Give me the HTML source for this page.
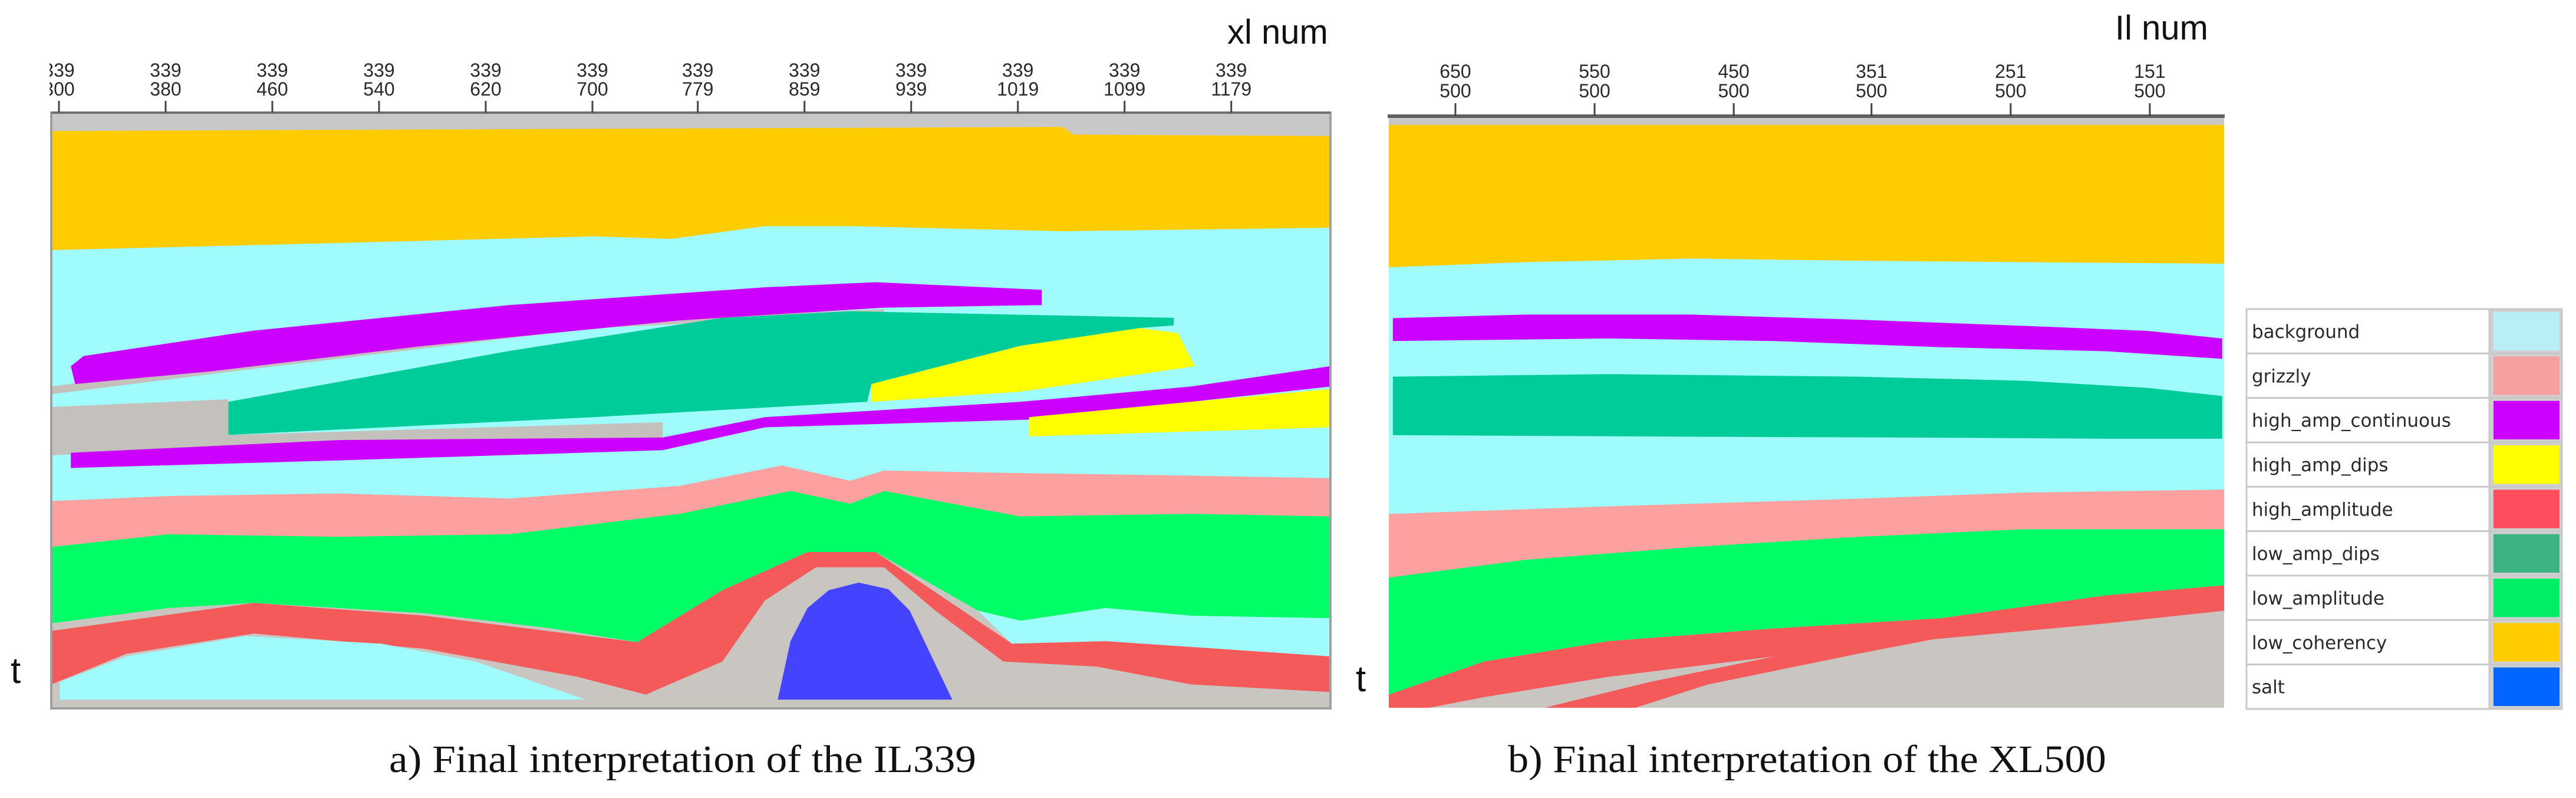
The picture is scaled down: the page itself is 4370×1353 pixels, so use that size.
<!DOCTYPE html>
<html><head><meta charset="utf-8"><style>
html,body{margin:0;padding:0;background:#fff;}
svg{display:block;}
</style></head><body>
<svg id="fig" width="4370" height="1353" viewBox="0 0 4370 1353" xmlns="http://www.w3.org/2000/svg">
<defs>
<clipPath id="clipA"><rect x="88" y="192" width="2168" height="1008"/></clipPath>
<clipPath id="clipB"><rect x="2356" y="198" width="1417" height="1002"/></clipPath>
<clipPath id="clipTickA"><rect x="84" y="90" width="2200" height="110"/></clipPath>
</defs>
<g id="panelA"></g>
<g id="panelB"></g>
<g id="axes"></g>
<g id="legend"></g>
<text x="2082" y="74" font-family="Liberation Sans, sans-serif" font-size="58" fill="#111">xl num</text>
<text x="3588" y="67" font-family="Liberation Sans, sans-serif" font-size="58" fill="#111">Il num</text>
<text x="18" y="1158" font-family="Liberation Sans, sans-serif" font-size="62" fill="#111">t</text>
<text x="2300" y="1172" font-family="Liberation Sans, sans-serif" font-size="62" fill="#111">t</text>
<text x="660" y="1309" font-family="Liberation Serif, serif" font-size="66" fill="#111" textLength="996" lengthAdjust="spacingAndGlyphs">a)  Final interpretation of the IL339</text>
<text x="2558" y="1309" font-family="Liberation Serif, serif" font-size="66" fill="#111" textLength="1015" lengthAdjust="spacingAndGlyphs">b)  Final interpretation of the XL500</text>
</svg>
<script>
// ---- data: tick labels ----
const xlTicks = [300,380,460,540,620,700,779,859,939,1019,1099,1179];
const ilTicks = [650,550,450,351,251,151];
// ---- legend ----
const legendNames = ["background","grizzly","high_amp_continuous","high_amp_dips","high_amplitude","low_amp_dips","low_amplitude","low_coherency","salt"];
const legendColors = ["#b9eef7","#f7a0a0","#cc00ff","#ffff00","#ff4d5e","#3cb383","#00ee66","#ffcc00","#0066ff"];
// ---- section A (trace index, sample index) polygons ----
const aGrayTop = [[62,222],[1564,222],[1564,268],[62,268]];
const aYellow = [[62,258],[1250,250],[1262,265],[1564,268],[1564,448],[1250,455],[1000,445],[900,445],[790,470],[700,465],[400,478],[62,492]];
const aCyan = [[62,492],[400,478],[700,465],[790,470],[900,445],[1000,445],[1250,455],[1564,448],[1564,940],[1400,935],[1200,930],[1040,925],[1000,945],[920,915],[800,955],[600,980],[400,970],[200,975],[62,985]];
const aGrayBand = [[62,760],[300,705],[700,632],[1040,608],[1040,618],[700,645],[300,725],[62,775]];
const aGrayWedge = [[62,800],[270,785],[270,855],[780,830],[780,860],[400,868],[62,895]];
const aMag1 = [[85,720],[100,700],[300,650],[600,600],[900,565],[1030,555],[1225,570],[1225,600],[1040,605],[800,630],[500,680],[250,730],[90,755]];
const aTeal = [[270,790],[600,690],[850,625],[1000,612],[1380,625],[1380,640],[1340,645],[1200,680],[1025,755],[1020,790],[700,820],[270,855]];
const aYel1 = [[1025,755],[1200,680],[1340,645],[1385,655],[1405,720],[1200,770],[1025,790]];
const aMag2 = [[85,890],[400,865],[780,860],[900,820],[1200,790],[1400,760],[1564,720],[1564,760],[1400,790],[1210,825],[900,840],[780,885],[400,905],[85,920]];
const aYel2 = [[1210,820],[1400,790],[1564,765],[1564,840],[1210,858]];
const aPink = [[62,985],[200,975],[400,970],[600,980],[800,955],[920,915],[1000,945],[1040,925],[1200,930],[1400,935],[1564,940],[1564,1015],[1400,1010],[1200,1015],[1040,965],[1000,990],[930,965],[800,1010],[600,1050],[400,1055],[200,1050],[62,1075]];
const aGreen = [[62,1075],[200,1050],[400,1055],[600,1050],[800,1010],[930,965],[1000,990],[1040,965],[1200,1015],[1400,1010],[1564,1015],[1564,1215],[1400,1210],[1300,1195],[1200,1220],[1150,1200],[1030,1085],[950,1085],[850,1160],[750,1262],[650,1235],[500,1205],[300,1185],[200,1195],[62,1225]];
const aCyanLow = [[1150,1200],[1200,1220],[1300,1195],[1400,1210],[1564,1215],[1564,1290],[1300,1260],[1190,1265]];
const aRed = [[62,1240],[300,1185],[500,1210],[750,1262],[850,1160],[950,1085],[1030,1085],[1190,1265],[1300,1260],[1564,1290],[1564,1360],[1400,1345],[1290,1310],[1180,1300],[1100,1200],[1040,1115],[960,1115],[900,1180],[850,1300],[760,1365],[680,1330],[500,1275],[300,1245],[150,1285],[62,1345]];
const aCyanBL = [[72,1340],[150,1290],[290,1250],[450,1265],[560,1300],[690,1375],[72,1375]];
const aSalt = [[915,1375],[930,1260],[950,1195],[975,1160],[1010,1145],[1045,1158],[1070,1200],[1090,1270],[1120,1375]];
// ---- section B polygons ----
const bGrayTop = [[135,228],[1143,228],[1143,250],[135,250]];
const bYellow = [[135,245],[1143,245],[1143,518],[900,515],[700,512],[500,508],[300,515],[135,525]];
const bCyan = [[135,525],[300,515],[500,508],[700,512],[900,515],[1143,518],[1143,962],[900,968],[700,980],[400,995],[135,1010]];
const bMag = [[140,625],[300,618],[500,618],[700,628],[900,640],[1050,650],[1140,665],[1140,705],[1000,690],[800,682],[600,670],[400,665],[140,670]];
const bTeal = [[140,740],[400,735],[700,740],[900,748],[1050,762],[1140,778],[1140,862],[1000,862],[800,860],[500,858],[140,855]];
const bPink = [[135,1010],[400,995],[700,980],[900,968],[1143,962],[1143,1040],[900,1040],[700,1055],[500,1075],[300,1100],[135,1135]];
const bGreen = [[135,1135],[300,1100],[500,1075],[700,1055],[900,1040],[1143,1040],[1143,1150],[1000,1170],[800,1215],[600,1235],[400,1260],[250,1300],[135,1365]];
const bRed1 = [[135,1365],[250,1300],[400,1260],[600,1235],[800,1215],[1000,1170],[1143,1150],[1143,1200],[1000,1225],[800,1255],[600,1290],[400,1330],[250,1370],[180,1392],[135,1392]];
const bRed2 = [[320,1392],[450,1340],[600,1290],[780,1240],[960,1195],[900,1222],[700,1285],[520,1345],[430,1392]];

const NS = "http://www.w3.org/2000/svg";
const axA = t => 87 + (t-62)*(2257-87)/(1564-62);
const ayA = s => 191 + (s-222)*(1201-191)/(1392-222);
const axB = t => 2356 + (t-135)*(3774-2356)/(1143-135);
const ayB = s => 197 + (s-228)*(1201-197)/(1392-228);
const xlX = v => 100 + (v-300)*181/80;
const ilX = v => 2469 + (650-v)*(3647-2469)/499;

function poly(g, pts, fx, fy, color, name){
  const p = document.createElementNS(NS,'polygon');
  p.setAttribute('points', pts.map(q=>fx(q[0]).toFixed(1)+','+fy(q[1]).toFixed(1)).join(' '));
  p.setAttribute('fill', color);
  
  
  g.appendChild(p);
}
function rect(g,x,y,w,h,fill,stroke,sw,name){
  const r=document.createElementNS(NS,'rect');
  r.setAttribute('x',x);r.setAttribute('y',y);r.setAttribute('width',w);r.setAttribute('height',h);
  r.setAttribute('fill',fill); if(stroke){r.setAttribute('stroke',stroke);r.setAttribute('stroke-width',sw);}
  
  
  g.appendChild(r); return r;
}
function txt(g,x,y,s,size,anchor,fam,name){
  const t=document.createElementNS(NS,'text');
  t.setAttribute('x',x);t.setAttribute('y',y);t.setAttribute('font-size',size);
  t.setAttribute('font-family',fam);t.setAttribute('fill','#2a2a2a');
  if(anchor)t.setAttribute('text-anchor',anchor);
  t.textContent=s;
  
  
  g.appendChild(t); return t;
}
function line(g,x1,y1,x2,y2,c,w,name){
  const l=document.createElementNS(NS,'line');
  l.setAttribute('x1',x1);l.setAttribute('y1',y1);l.setAttribute('x2',x2);l.setAttribute('y2',y2);
  l.setAttribute('stroke',c);l.setAttribute('stroke-width',w);
  
  
  g.appendChild(l);
}

const CY="#a0fcfc";
const gA=document.getElementById('panelA');
const inA=document.createElementNS(NS,'g'); inA.setAttribute('clip-path','url(#clipA)');


gA.appendChild(inA);
rect(inA,87,191,2170,1010,"#c9c5c0",null,0,'seismic-background-a');
poly(inA,aGrayTop,axA,ayA,"#c8c8c8",'gray-top-a');
poly(inA,aYellow,axA,ayA,"#ffcc00",'low-coherency-a');
poly(inA,aCyan,axA,ayA,CY,'background-a');
poly(inA,aGrayBand,axA,ayA,"#c4c0bb",'seismic-band-a');
poly(inA,aGrayWedge,axA,ayA,"#c4c0bb",'seismic-wedge-a');
poly(inA,aMag1,axA,ayA,"#cc00ff",'high-amp-continuous-a1');
poly(inA,aTeal,axA,ayA,"#00cc99",'low-amp-dips-a');
poly(inA,aYel1,axA,ayA,"#ffff00",'high-amp-dips-a1');
poly(inA,aMag2,axA,ayA,"#cc00ff",'high-amp-continuous-a2');
poly(inA,aYel2,axA,ayA,"#ffff00",'high-amp-dips-a2');
poly(inA,aPink,axA,ayA,"#fca0a0",'grizzly-a');
poly(inA,aGreen,axA,ayA,"#00ff66",'low-amplitude-a');
poly(inA,aCyanLow,axA,ayA,CY,'background-low-a');
poly(inA,aRed,axA,ayA,"#f55a5a",'high-amplitude-a');
poly(inA,aCyanBL,axA,ayA,CY,'background-bottom-a');
poly(inA,aSalt,axA,ayA,"#4444ff",'salt-a');
rect(gA,87,191,2170,1010,"none","#a0a0a0",4,'frame-a');
line(gA,87,191,2257,191,"#707070",4,'top-axis-a');

const gB=document.getElementById('panelB');
const inB=document.createElementNS(NS,'g'); inB.setAttribute('clip-path','url(#clipB)');


gB.appendChild(inB);
rect(inB,2356,197,1418,1004,"#c9c5c0",null,0,'seismic-background-b');
poly(inB,bGrayTop,axB,ayB,"#c8c8c8",'gray-top-b');
poly(inB,bYellow,axB,ayB,"#ffcc00",'low-coherency-b');
poly(inB,bCyan,axB,ayB,CY,'background-b');
poly(inB,bMag,axB,ayB,"#cc00ff",'high-amp-continuous-b');
poly(inB,bTeal,axB,ayB,"#00cc99",'low-amp-dips-b');
poly(inB,bPink,axB,ayB,"#fca0a0",'grizzly-b');
poly(inB,bGreen,axB,ayB,"#00ff66",'low-amplitude-b');
poly(inB,bRed1,axB,ayB,"#f55a5a",'high-amplitude-b1');
poly(inB,bRed2,axB,ayB,"#f55a5a",'high-amplitude-b2');
line(gB,2354,197,3774,197,"#606060",6,'top-axis-b');

const gx=document.getElementById('axes');
const tA=document.createElementNS(NS,'g'); tA.setAttribute('clip-path','url(#clipTickA)');


gx.appendChild(tA);
xlTicks.forEach(v=>{
  const x=xlX(v);
  line(tA,x,171,x,191,"#444",3,'xl-tick-mark');
  txt(tA,x,130,"339",32,"middle","Liberation Sans, sans-serif",'xl-tick-label-inline');
  txt(tA,x,162,String(v),32,"middle","Liberation Sans, sans-serif",'xl-tick-label');
});
ilTicks.forEach(v=>{
  const x=ilX(v);
  line(gx,x,175,x,197,"#444",3,'il-tick-mark');
  txt(gx,x,132,String(v),32,"middle","Liberation Sans, sans-serif",'il-tick-label');
  txt(gx,x,165,"500",32,"middle","Liberation Sans, sans-serif",'il-tick-label-xline');
});

const gl=document.getElementById('legend');
const L0=524, LH=(1202-524)/legendNames.length;
legendNames.forEach((n,i)=>{
  const y=L0+i*LH;
  rect(gl,3811,y,412,LH,"#ffffff","#c8c8c8",3,'legend-label-cell');
  rect(gl,4223,y,123,LH,"#d0d0d0","#c8c8c8",3,'legend-swatch-cell');
  rect(gl,4230,y+5,112,LH-10,legendColors[i],null,0,'legend-swatch-'+n.replace(/_/g,'-'));
  txt(gl,3820,y+LH*0.65,n,31,null,"DejaVu Sans, sans-serif",'legend-entry-'+n.replace(/_/g,'-'));
});
</script>
</body></html>
